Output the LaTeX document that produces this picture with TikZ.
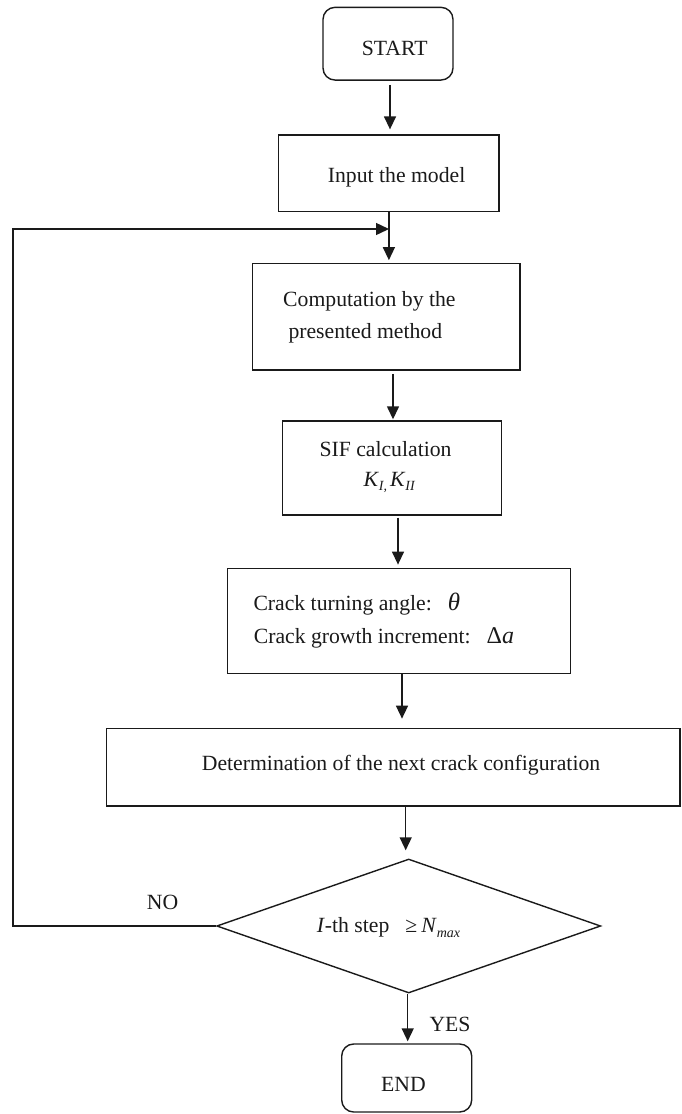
\documentclass[tikz,border=0pt]{standalone}
\usepackage{fontspec}
\setmainfont{Liberation Serif}
\usetikzlibrary{arrows.meta,shapes.geometric}
\definecolor{ink}{HTML}{1A1A1A}
\newcommand\mainsz{\fontsize{21.7}{26}\selectfont}
\newcommand\lowsub[1]{\raisebox{-4.5pt}{\fontsize{14}{14}\selectfont\itshape #1}}
\begin{document}
\begin{tikzpicture}[x=1pt,y=-1pt,
  box/.style={draw=ink, line width=1.4pt, inner sep=0pt},
  txt/.style={inner sep=0pt, anchor=base west, text=ink, font=\mainsz},
  arr/.style={draw=ink, line width=1.4pt, -{Triangle[length=13pt,width=12pt]}}]
\useasboundingbox (0,0) rectangle (682,1114);
% boxes
\node[box, rounded corners=12pt, minimum width=130pt, minimum height=72.7pt] (start) at (388,43.7) {};
\node[box, minimum width=220.3pt, minimum height=76.7pt] (input) at (388.9,173.4) {};
\node[box, minimum width=267.7pt, minimum height=106.7pt] (comp) at (386.2,316.7) {};
\node[box, minimum width=219.4pt, minimum height=94pt] (sif) at (392,468) {};
\node[box, minimum width=343.4pt, minimum height=105pt] (crack) at (399,620.8) {};
\node[box, minimum width=573.3pt, minimum height=77.7pt] (det) at (393.35,767.2) {};
\node[box, shape=diamond, minimum width=384pt, minimum height=134pt] (dia) at (408.7,926) {};
\node[box, rounded corners=12pt, minimum width=130pt, minimum height=68pt] (end) at (406.7,1078) {};
% texts
\node[txt] (tstart) at (361.7,55) {START};
\node[txt] (tinput) at (327.7,182.7) {Input the model};
\node[txt] (tcomp1) at (283,306) {Computation by the};
\node[txt] (tcomp2) at (288.3,338.3) {presented method};
\node[txt, anchor=base east] (tsif1) at (451.7,456) {SIF calculation};
\node[txt] (tsif2) at (363.3,486) {\textit{K}\lowsub{I,}\hspace{3pt}\textit{K}\lowsub{II}};
\node[txt] (tcrack1) at (253.3,610.7) {Crack turning angle:\hspace{16pt}{\fontsize{25}{25}\selectfont\itshape θ}};
\node[txt] (tcrack2) at (253.6,643.3) {Crack growth increment:\hspace{16pt}{\fontsize{24}{24}\selectfont Δ\textit{a}}};
\node[txt] (tdet) at (201.7,770.7) {Determination of the next crack configuration};
\node[txt] (tno) at (146.7,909.3) {NO};
\node[txt] (tdia) at (316.7,932.7) {\textit{I}-th step\hspace{16pt}≥\hspace{4pt}\textit{N}\lowsub{max}};
\node[txt] (tyes) at (429.3,1031) {YES};
\node[txt] (tend) at (381,1091.7) {END};
% connectors
\coordinate (loopleft) at (13,229);
\coordinate (loopend) at (389,229);
\draw[arr, shorten <=4pt, shorten >=5pt] ([xshift=2pt]start.south) -- ([xshift=2pt]start.south |- input.north);
\draw[arr, shorten >=2.5pt] (input.south) -- (input.south |- comp.north);
\draw[arr, shorten <=3pt, shorten >=1pt] ([xshift=1pt]sif.north |- comp.south) -- ([xshift=1pt]sif.north);
\draw[arr, shorten <=2pt, shorten >=3pt] ([xshift=6pt]sif.south) -- ([xshift=6pt]sif.south |- crack.north);
\draw[arr, shorten >=9pt] ([xshift=3pt]crack.south) -- ([xshift=3pt]crack.south |- det.north);
\draw[arr, shorten >=8pt] ([xshift=-3pt]dia.north |- det.south) -- ([xshift=-3pt]dia.north);
\draw[arr, shorten >=2pt] ([xshift=-1pt]dia.south) -- ([xshift=-1pt]dia.south |- end.north);
\draw[arr] (dia.west) -| (loopleft) -- (loopend);
\end{tikzpicture}
\end{document}
